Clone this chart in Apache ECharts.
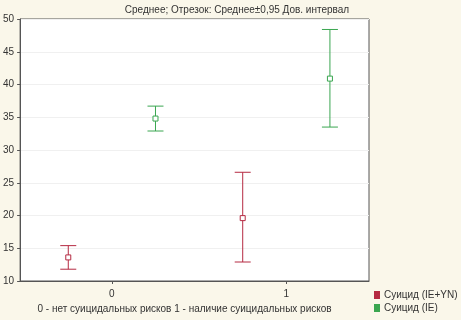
<!DOCTYPE html>
<html>
<head>
<meta charset="utf-8">
<script src="https://cdn.jsdelivr.net/npm/echarts@6/dist/echarts.min.js"></script>
<style>
  html, body { margin: 0; padding: 0; background: #faf7ea; }
  #main { width: 461px; height: 320px; }
</style>
</head>
<body>
<div id="main"></div>
<script>
// категории по оси X
var categories = [0, 1];
// Суицид (IE+YN): среднее и границы 95% интервала
var meanIEYN = [13.6, 19.6];
var lowIEYN = [11.8, 12.9];
var highIEYN = [15.4, 26.6];
// Суицид (IE)
var meanIE = [34.8, 40.9];
var lowIE = [32.9, 33.5];
var highIE = [36.7, 48.4];
var yTicks = [10, 15, 20, 25, 30, 35, 40, 45, 50];

var red = '#b52a42';
var green = '#3aa650';

// строим точки [x, low, high, mean] со сдвигом серии
function makeRows(shift, mean, low, high) {
  return categories.map(function (c, i) {
    return [c + shift, low[i], high[i], mean[i]];
  });
}

function errorItem(color) {
  return function (params, api) {
    var x = api.value(0);
    var lo = api.coord([x, api.value(1)]);
    var hi = api.coord([x, api.value(2)]);
    var m = api.coord([x, api.value(3)]);
    var half = 8;
    var s = 2.5;
    var st = { stroke: color, lineWidth: 1, fill: null };
    return {
      type: 'group',
      children: [
        { type: 'line', shape: { x1: hi[0], y1: hi[1], x2: lo[0], y2: lo[1] }, style: st },
        { type: 'line', shape: { x1: hi[0] - half, y1: hi[1], x2: hi[0] + half, y2: hi[1] }, style: st },
        { type: 'line', shape: { x1: lo[0] - half, y1: lo[1], x2: lo[0] + half, y2: lo[1] }, style: st },
        { type: 'rect', shape: { x: m[0] - s, y: m[1] - s, width: s * 2, height: s * 2 },
          style: { stroke: color, lineWidth: 1, fill: '#fff' } }
      ]
    };
  };
}

var myChart = echarts.init(document.getElementById('main'));

var option = {
  animation: false,
  backgroundColor: '#faf7ea',
  textStyle: { fontFamily: 'Liberation Sans, Arial, sans-serif' },
  title: {
    text: 'Среднее; Отрезок: Среднее±0,95 Дов. интервал',
    left: 232,
    textAlign: 'center',
    top: 0,
    textStyle: { fontSize: 10, fontWeight: 'normal', color: '#333' }
  },
  legend: {
    orient: 'vertical',
    left: 374,
    top: 290,
    padding: 0,
    itemGap: 3,
    itemWidth: 6,
    itemHeight: 8,
    icon: 'rect',
    textStyle: { fontSize: 10, color: '#333', padding: [0, 0, 0, -1] },
    data: ['Суицид (IE+YN)', 'Суицид (IE)']
  },
  grid: {
    left: 19,
    right: 92,
    top: 19,
    bottom: 39,
    show: true,
    backgroundColor: '#ffffff',
    borderColor: '#555',
    borderWidth: 1
  },
  xAxis: {
    type: 'value',
    min: -0.526,
    max: 1.474,
    name: '0 - нет суицидальных рисков 1 - наличие суицидальных рисков',
    nameLocation: 'middle',
    nameGap: 22,
    nameTextStyle: { fontSize: 10, color: '#333', padding: [0, 0, 0, -20] },
    axisLine: { show: true, onZero: false, lineStyle: { color: '#555' } },
    axisTick: { show: true, customValues: categories, length: 3, lineStyle: { color: '#555' } },
    axisLabel: { customValues: categories, fontSize: 10, color: '#333', margin: 8 },
    splitLine: { show: false }
  },
  yAxis: {
    type: 'value',
    min: 10,
    max: 50,
    interval: 5,
    axisLine: { show: true, onZero: false, lineStyle: { color: '#555' } },
    axisTick: { show: true, length: 3, lineStyle: { color: '#555' } },
    axisLabel: { fontSize: 10, color: '#333', margin: 6,
      formatter: function (v) { return yTicks.indexOf(v) >= 0 ? v : ''; } },
    splitLine: { show: true, lineStyle: { color: '#f0f0f0' } }
  },
  series: [
    {
      name: 'Суицид (IE+YN)',
      type: 'custom',
      itemStyle: { color: red },
      renderItem: errorItem(red),
      encode: { x: 0, y: [1, 2, 3] },
      data: makeRows(-0.25, meanIEYN, lowIEYN, highIEYN)
    },
    {
      name: 'Суицид (IE)',
      type: 'custom',
      itemStyle: { color: green },
      renderItem: errorItem(green),
      encode: { x: 0, y: [1, 2, 3] },
      data: makeRows(0.25, meanIE, lowIE, highIE)
    }
  ]
};

myChart.setOption(option);
</script>
</body>
</html>
